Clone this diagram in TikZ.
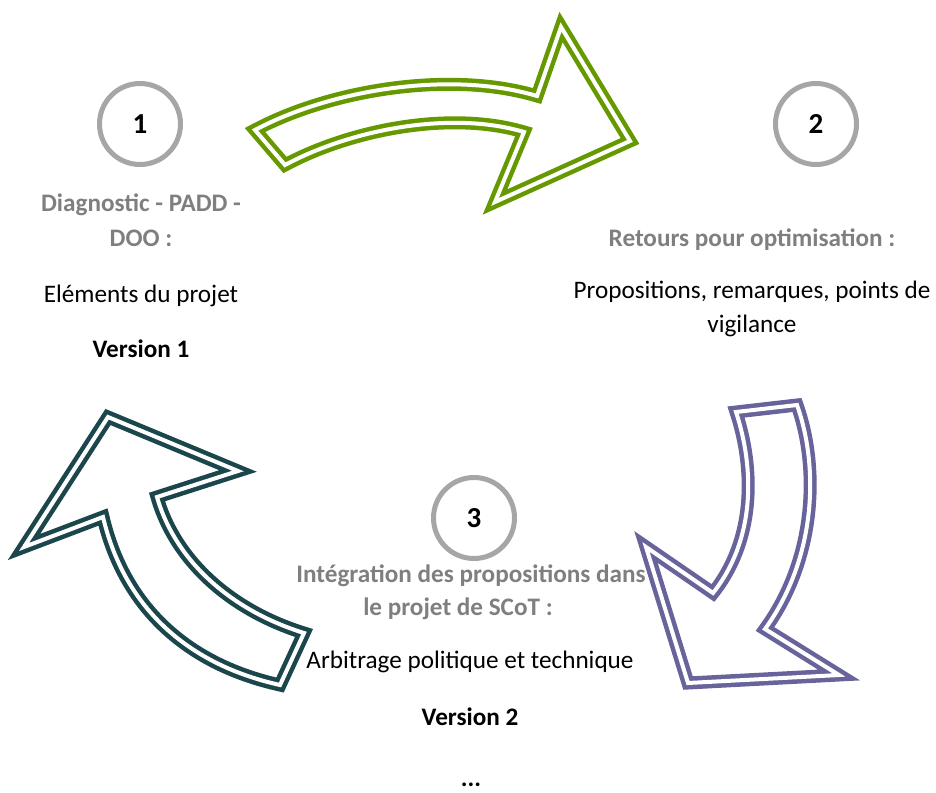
\documentclass[tikz,border=0pt]{standalone}
\usepackage{fontspec}
\setmainfont{Carlito}

\definecolor{flecheverte}{RGB}{102,153,0}
\definecolor{flecheviolette}{RGB}{102,100,155}
\definecolor{flechebleue}{RGB}{27,71,76}
\definecolor{cerclegris}{RGB}{166,166,166}
\definecolor{textegris}{RGB}{127,127,127}

\begin{document}
\begin{tikzpicture}[
    x=1pt, y=-1pt,
    fleche/.style={line width=4.5pt, double=white, double distance=4pt, line join=miter},
    numero/.style={circle, draw=cerclegris, line width=5pt, minimum size=81pt, inner sep=0pt,
        font=\bfseries\fontsize{29}{32}\selectfont},
    titre/.style={anchor=base, text=textegris, font=\bfseries\fontsize{25.2}{30}\selectfont},
    corps/.style={anchor=base, font=\fontsize{25.2}{30}\selectfont},
    version/.style={anchor=base, font=\bfseries\fontsize{25.2}{30}\selectfont},
]

\useasboundingbox (0,0) rectangle (936,792);

% =============================================================================
% Fleches du cycle
% =============================================================================

% --- 1 -> 2 (verte) ---
\draw[fleche, flecheverte]
    (255,130) .. controls (330,90) and (450,70) .. (537,96)
    -- (561,27) -- (630,141) -- (495,202) -- (524,132)
    .. controls (450,110) and (350,130) .. (285,165) -- cycle;

% --- 2 -> 3 (violette) ---
\draw[fleche, flecheviolette]
    (736,412) -- (797,405) .. controls (820,470) and (815,560) .. (765,629)
    -- (839,675) -- (688,683) -- (646,547) -- (713,593)
    .. controls (755,540) and (755,470) .. (736,412) -- cycle;

% --- 3 -> 1 (bleue) ---
\draw[fleche, flechebleue]
    (108,417) -- (238,471) -- (157,497)
    .. controls (175,560) and (230,610) .. (304,633) -- (280,685)
    .. controls (190,665) and (125,610) .. (103,517) -- (24,547) -- cycle;

% =============================================================================
% Etape 1
% =============================================================================
\node[numero] (cercle1) at (140,124) {1};
\node[titre] (titre1a) at (141,211) {Diagnostic - PADD -};
\node[titre] (titre1b) at (141,246) {DOO :};
\node[corps] (texte1) at (141,302) {Eléments du projet};
\node[version] (version1) at (141,357) {Version 1};

% =============================================================================
% Etape 2
% =============================================================================
\node[numero] (cercle2) at (816,124) {2};
\node[titre] (titre2) at (752,246) {Retours pour optimisation :};
\node[corps] (texte2a) at (752,298) {Propositions, remarques, points de};
\node[corps] (texte2b) at (752,332) {vigilance};

% =============================================================================
% Etape 3
% =============================================================================
\node[numero] (cercle3) at (474,518) {3};
\node[titre] (titre3a) at (471,582) {Intégration des propositions dans};
\node[titre] (titre3b) at (458,615) {le projet de SCoT :};
\node[corps] (texte3) at (470,668) {Arbitrage politique et technique};
\node[version] (version2) at (470,725) {Version 2};
\node[version] (suite) at (471,786) {...};

\end{tikzpicture}
\end{document}
